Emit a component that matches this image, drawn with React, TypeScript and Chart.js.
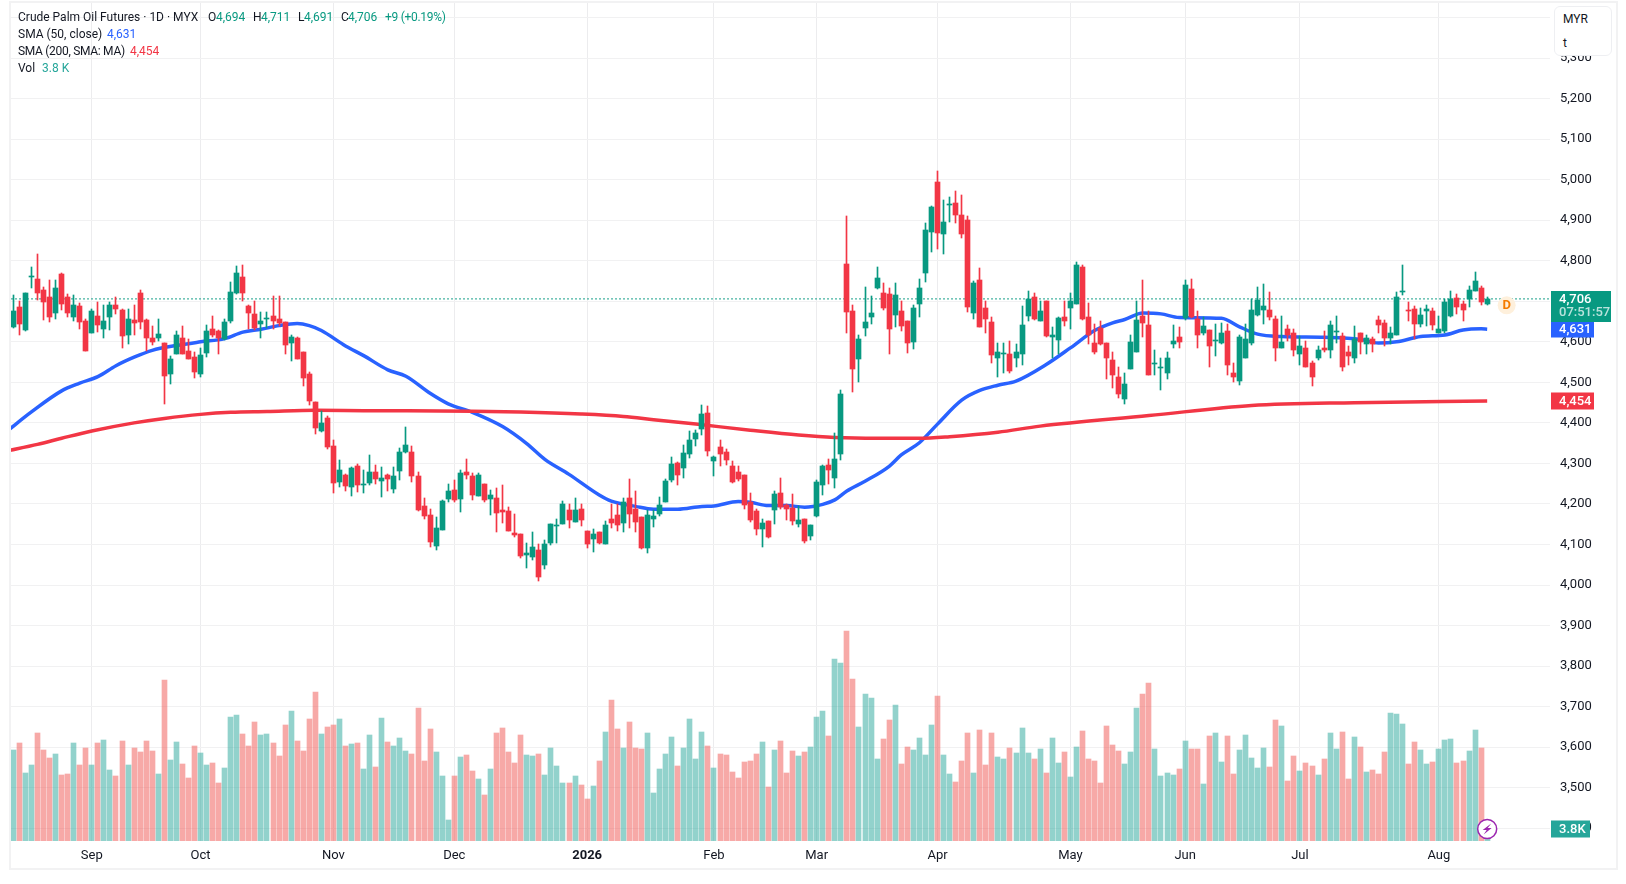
import { useEffect, useRef } from 'react';
import { Chart, registerables } from 'chart.js';

Chart.register(...registerables);

const opens = [
  4636, 4686, 4629, 4761, 4755, 4728, 4710, 4671, 4767, 4710, 4661, 4688, 4651, 4622, 4663, 4631, 4661, 4691, 4678, 4617,
  4654, 4720, 4654, 4609, 4609, 4597, 4520, 4570, 4609, 4577, 4562, 4520, 4572, 4631, 4626, 4607, 4651, 4720, 4760, 4688,
  4668, 4644, 4657, 4663, 4656, 4649, 4597, 4609, 4575, 4520, 4452, 4381, 4413, 4344, 4255, 4272, 4242, 4294, 4247, 4252,
  4279, 4257, 4272, 4238, 4282, 4329, 4329, 4270, 4196, 4173, 4097, 4136, 4213, 4235, 4213, 4279, 4270, 4220, 4250, 4213,
  4215, 4186, 4183, 4129, 4127, 4075, 4070, 4087, 4050, 4104, 4147, 4151, 4186, 4156, 4188, 4134, 4114, 4131, 4102, 4164,
  4173, 4154, 4215, 4188, 4168, 4092, 4164, 4175, 4205, 4260, 4302, 4289, 4324, 4360, 4385, 4424, 4306, 4340, 4328, 4294,
  4279, 4271, 4205, 4183, 4138, 4158, 4185, 4227, 4197, 4190, 4150, 4163, 4121, 4170, 4247, 4296, 4264, 4323, 4792, 4676,
  4558, 4634, 4661, 4733, 4720, 4718, 4666, 4676, 4651, 4600, 4693, 4770, 4871, 4994, 4866, 4938, 4942, 4913, 4900, 4671,
  4752, 4683, 4649, 4561, 4570, 4571, 4561, 4571, 4663, 4710, 4651, 4700, 4611, 4604, 4661, 4683, 4693, 4785, 4661, 4596,
  4633, 4596, 4554, 4514, 4458, 4534, 4574, 4663, 4641, 4547, 4535, 4524, 4594, 4611, 4658, 4730, 4656, 4623, 4628, 4602,
  4596, 4626, 4524, 4504, 4561, 4596, 4666, 4678, 4678, 4656, 4586, 4631, 4623, 4571, 4584, 4547, 4559, 4584, 4579, 4624,
  4614, 4574, 4561, 4623, 4594, 4606, 4653, 4646, 4609, 4618, 4723, 4678, 4680, 4643, 4677, 4675, 4623, 4626, 4663, 4708,
  4693, 4705, 4725, 4733, 4694,
];
const highs = [
  4715, 4700, 4720, 4784, 4816, 4735, 4752, 4752, 4770, 4718, 4715, 4695, 4656, 4681, 4698, 4691, 4698, 4710, 4681, 4681,
  4691, 4728, 4656, 4639, 4656, 4597, 4565, 4626, 4639, 4607, 4575, 4585, 4641, 4663, 4629, 4656, 4747, 4787, 4789, 4691,
  4700, 4673, 4673, 4713, 4713, 4649, 4617, 4612, 4575, 4525, 4452, 4430, 4418, 4358, 4309, 4275, 4292, 4299, 4284, 4321,
  4297, 4292, 4275, 4292, 4339, 4390, 4344, 4279, 4215, 4188, 4168, 4210, 4250, 4260, 4284, 4312, 4277, 4277, 4250, 4235,
  4240, 4247, 4193, 4176, 4127, 4103, 4131, 4100, 4110, 4151, 4163, 4208, 4201, 4215, 4201, 4134, 4139, 4131, 4159, 4201,
  4201, 4215, 4262, 4233, 4168, 4186, 4186, 4217, 4262, 4316, 4304, 4346, 4381, 4382, 4444, 4442, 4318, 4358, 4335, 4306,
  4294, 4271, 4227, 4187, 4163, 4158, 4232, 4264, 4200, 4225, 4195, 4163, 4148, 4259, 4296, 4311, 4375, 4481, 4910, 4691,
  4617, 4735, 4713, 4785, 4745, 4733, 4745, 4701, 4651, 4691, 4755, 4893, 4935, 5021, 4950, 4957, 4972, 4962, 4910, 4750,
  4782, 4701, 4661, 4596, 4596, 4601, 4594, 4688, 4725, 4720, 4700, 4700, 4636, 4661, 4700, 4720, 4797, 4790, 4695, 4643,
  4651, 4596, 4574, 4537, 4524, 4618, 4700, 4752, 4675, 4579, 4561, 4574, 4641, 4636, 4752, 4755, 4675, 4661, 4628, 4643,
  4646, 4643, 4547, 4616, 4643, 4705, 4735, 4742, 4723, 4663, 4663, 4641, 4631, 4614, 4601, 4552, 4589, 4626, 4651, 4663,
  4621, 4589, 4638, 4623, 4616, 4611, 4663, 4653, 4636, 4723, 4790, 4698, 4688, 4683, 4690, 4683, 4663, 4705, 4725, 4718,
  4700, 4737, 4772, 4737, 4711,
];
const lows = [
  4634, 4617, 4627, 4732, 4704, 4654, 4649, 4656, 4678, 4661, 4651, 4631, 4577, 4622, 4624, 4609, 4629, 4668, 4585, 4594,
  4617, 4631, 4577, 4592, 4602, 4446, 4496, 4570, 4570, 4557, 4511, 4513, 4562, 4612, 4570, 4604, 4646, 4718, 4700, 4631,
  4629, 4609, 4634, 4631, 4639, 4570, 4552, 4557, 4491, 4444, 4373, 4378, 4336, 4228, 4242, 4233, 4220, 4230, 4228, 4247,
  4250, 4218, 4233, 4228, 4260, 4326, 4255, 4183, 4164, 4095, 4087, 4136, 4205, 4205, 4181, 4262, 4210, 4220, 4205, 4173,
  4131, 4153, 4134, 4119, 4067, 4043, 4062, 4010, 4040, 4099, 4104, 4151, 4141, 4156, 4146, 4092, 4082, 4102, 4102, 4141,
  4134, 4131, 4141, 4131, 4090, 4080, 4144, 4170, 4205, 4255, 4247, 4265, 4314, 4343, 4370, 4318, 4269, 4294, 4296, 4252,
  4257, 4187, 4155, 4123, 4094, 4116, 4150, 4187, 4160, 4148, 4143, 4104, 4111, 4168, 4222, 4249, 4239, 4308, 4622, 4476,
  4501, 4614, 4644, 4730, 4678, 4570, 4636, 4627, 4572, 4582, 4661, 4748, 4822, 4829, 4817, 4896, 4893, 4856, 4674, 4656,
  4637, 4622, 4548, 4512, 4524, 4522, 4539, 4544, 4651, 4653, 4651, 4611, 4561, 4571, 4638, 4631, 4693, 4653, 4594, 4571,
  4591, 4509, 4487, 4462, 4447, 4534, 4574, 4611, 4519, 4517, 4482, 4509, 4584, 4584, 4653, 4658, 4586, 4618, 4539, 4564,
  4594, 4519, 4502, 4494, 4561, 4591, 4663, 4643, 4653, 4552, 4584, 4601, 4566, 4542, 4537, 4492, 4556, 4574, 4559, 4596,
  4527, 4544, 4549, 4569, 4569, 4576, 4621, 4589, 4594, 4618, 4715, 4651, 4606, 4636, 4638, 4628, 4621, 4621, 4661, 4668,
  4651, 4685, 4725, 4690, 4691,
];
const closes = [
  4676, 4644, 4720, 4762, 4720, 4698, 4661, 4732, 4693, 4671, 4691, 4649, 4577, 4676, 4641, 4651, 4691, 4681, 4614, 4656,
  4646, 4649, 4609, 4599, 4619, 4516, 4557, 4617, 4570, 4557, 4525, 4567, 4626, 4617, 4609, 4649, 4723, 4769, 4720, 4671,
  4634, 4651, 4659, 4651, 4646, 4592, 4612, 4557, 4511, 4454, 4388, 4400, 4341, 4252, 4284, 4245, 4289, 4247, 4250, 4279,
  4262, 4265, 4262, 4270, 4329, 4346, 4270, 4186, 4171, 4107, 4141, 4208, 4233, 4210, 4277, 4272, 4223, 4272, 4210, 4223,
  4178, 4181, 4134, 4124, 4072, 4080, 4095, 4020, 4102, 4151, 4149, 4201, 4161, 4186, 4161, 4102, 4127, 4104, 4149, 4154,
  4149, 4205, 4176, 4156, 4092, 4173, 4171, 4197, 4257, 4299, 4272, 4326, 4358, 4375, 4422, 4331, 4316, 4323, 4308, 4254,
  4262, 4197, 4160, 4138, 4153, 4118, 4224, 4192, 4187, 4158, 4160, 4108, 4148, 4254, 4294, 4284, 4311, 4471, 4674, 4533,
  4607, 4649, 4671, 4757, 4683, 4632, 4715, 4639, 4597, 4683, 4733, 4876, 4933, 4868, 4896, 4940, 4913, 4866, 4686, 4745,
  4637, 4656, 4567, 4576, 4573, 4529, 4576, 4641, 4706, 4656, 4675, 4614, 4616, 4658, 4651, 4700, 4790, 4656, 4616, 4576,
  4594, 4561, 4517, 4472, 4497, 4599, 4653, 4646, 4519, 4549, 4537, 4561, 4601, 4599, 4740, 4661, 4616, 4638, 4589, 4604,
  4621, 4542, 4512, 4611, 4606, 4678, 4703, 4688, 4661, 4586, 4599, 4618, 4579, 4589, 4537, 4512, 4581, 4579, 4641, 4626,
  4539, 4564, 4606, 4599, 4609, 4594, 4641, 4609, 4623, 4710, 4725, 4676, 4643, 4666, 4680, 4641, 4631, 4698, 4705, 4685,
  4678, 4728, 4750, 4698, 4706,
];
// thousands of contracts
const volumes = [
  22.6, 24.3, 17.1, 19.0, 26.7, 22.6, 20.7, 21.7, 16.7, 16.9, 24.3, 19.0, 23.1, 19.0, 24.3, 25.0, 17.9, 16.4, 24.8, 19.0,
  23.1, 22.1, 24.8, 22.4, 16.9, 39.3, 20.2, 24.5, 19.3, 16.0, 23.6, 21.9, 19.0, 19.5, 14.8, 18.3, 30.5, 31.0, 26.4, 23.6,
  29.3, 26.2, 26.4, 24.3, 21.2, 28.6, 31.9, 24.8, 22.4, 30.0, 36.4, 26.4, 28.1, 28.6, 30.0, 23.6, 24.0, 24.3, 18.1, 26.2,
  18.6, 30.2, 24.5, 23.6, 25.5, 22.4, 21.7, 32.6, 20.0, 27.6, 22.1, 16.4, 6.0, 16.4, 21.0, 21.4, 17.6, 15.7, 11.9, 18.1,
  26.7, 27.9, 22.1, 19.5, 26.2, 21.4, 21.2, 21.7, 16.7, 23.1, 18.8, 14.8, 14.8, 16.4, 14.3, 11.0, 14.0, 20.0, 26.9, 34.5,
  27.6, 23.1, 29.3, 23.1, 22.9, 26.7, 12.4, 18.1, 21.7, 25.7, 18.8, 23.1, 30.0, 20.5, 26.9, 23.6, 18.3, 21.7, 21.4, 17.4,
  16.0, 19.8, 20.0, 21.7, 24.5, 13.8, 22.6, 24.8, 17.1, 22.4, 21.2, 22.1, 23.3, 30.5, 31.9, 26.0, 44.3, 43.3, 51.0, 39.5,
  28.1, 36.0, 35.0, 20.5, 25.2, 29.8, 33.3, 19.3, 23.3, 22.6, 25.5, 21.4, 28.6, 35.5, 21.4, 16.9, 15.0, 20.0, 26.7, 17.1,
  27.4, 19.0, 26.7, 21.0, 20.5, 23.1, 21.9, 27.9, 21.9, 20.5, 22.9, 17.1, 25.5, 19.5, 22.1, 16.2, 23.3, 27.1, 20.5, 20.0,
  14.8, 28.3, 23.8, 22.4, 19.3, 22.1, 32.6, 36.0, 38.6, 22.9, 16.4, 17.1, 16.7, 18.1, 24.8, 22.9, 22.9, 14.5, 26.0, 26.7,
  19.8, 26.0, 16.9, 22.6, 26.2, 20.7, 18.3, 23.1, 18.6, 29.8, 28.3, 15.2, 21.2, 17.6, 19.5, 18.8, 16.7, 20.5, 26.7, 22.9,
  26.9, 15.7, 25.7, 23.3, 17.4, 17.9, 16.9, 22.1, 31.4, 31.2, 28.8, 19.3, 24.5, 22.6, 19.3, 19.8, 22.9, 25.0, 25.2, 19.5,
  20.0, 22.4, 27.4, 23.1, 3.8,
];

const sma50Bars = [
  -1, 3, 8, 11, 14, 17, 20, 23, 27, 31, 35, 38, 41, 44, 47, 49, 51, 55, 58, 62, 65, 69, 72, 76, 81, 85, 88, 92, 97, 99,
  103, 106, 110, 114, 116, 120, 122, 125, 128, 131, 134, 136, 138, 141, 145, 147, 150, 153, 157, 160, 163, 166, 171,
  175, 179, 182, 184, 187, 190, 193, 200, 203, 206, 210, 217, 223, 226, 229, 233, 237, 240, 243, 244,
];
const sma50Values = [
  4380, 4427, 4479, 4498, 4514, 4541, 4562, 4579, 4591, 4600, 4608, 4624, 4631, 4640, 4645, 4640, 4628, 4590, 4566, 4531,
  4515, 4473, 4447, 4426, 4391, 4349, 4310, 4273, 4222, 4207, 4194, 4187, 4187, 4194, 4195, 4206, 4204, 4196, 4196, 4192,
  4199, 4210, 4232, 4256, 4293, 4321, 4351, 4397, 4456, 4480, 4493, 4503, 4544, 4585, 4628, 4647, 4655, 4671, 4669, 4660,
  4658, 4637, 4619, 4613, 4611, 4606, 4597, 4600, 4613, 4617, 4629, 4632, 4631,
];
const sma200Bars = [
  -1, 4, 8, 13, 20, 25, 31, 36, 42, 50, 58, 76, 84, 94, 101, 106, 113, 122, 130, 136, 143, 150, 155, 163, 170, 188, 205,
  222, 244,
];
const sma200Values = [
  4331, 4347, 4362, 4380, 4400, 4411, 4421, 4426, 4428, 4431, 4430, 4429, 4427, 4422, 4416, 4408, 4397, 4382, 4370, 4364,
  4362, 4362, 4366, 4377, 4392, 4418, 4443, 4450, 4454,
];

const monthBars = [13, 31, 53, 73, 95, 116, 133, 153, 175, 194, 213, 236];
const monthLabels = ['Sep', 'Oct', 'Nov', 'Dec', '2026', 'Feb', 'Mar', 'Apr', 'May', 'Jun', 'Jul', 'Aug'];

const lastClose = 4706;
const sma50Last = 4631;
const sma200Last = 4454;
const lastVolume = 3.8;

const UP = '#089981';
const DOWN = '#F23645';
const BLUE = '#2962FF';
const TEXT = '#131722';
const FONT = 'Roboto, sans-serif';

const isUp = closes.map((c, i) => c >= opens[i]);
const candleColors = isUp.map((up) => (up ? UP : DOWN));
const volumeColors = isUp.map((up) => (up ? 'rgba(38, 166, 154, 0.5)' : 'rgba(239, 83, 80, 0.5)'));

const fmt = (v: number) => v.toLocaleString('en-US');

// bars land on whole pixels, the way the original chart renders them
const snapBars = {
  id: 'snapBars',
  afterDatasetsUpdate(chart: Chart) {
    chart.data.datasets.forEach((ds, index) => {
      if (ds.type !== 'bar') {
        return;
      }
      chart.getDatasetMeta(index).data.forEach((el: any) => {
        el.x = Math.floor(el.x) + 0.5;
        el.y = Math.round(el.y);
        el.base = Math.round(el.base);
        if (el.y === el.base) {
          el.base = el.y + 1;
        }
      });
    });
  },
};

function badge(ctx: CanvasRenderingContext2D, y: number, w: number, color: string, label: string) {
  ctx.fillStyle = color;
  ctx.fillRect(1551, Math.round(y) - 8.5, w, 17);
  ctx.fillStyle = '#ffffff';
  ctx.font = `500 13px ${FONT}`;
  ctx.textAlign = 'left';
  ctx.textBaseline = 'middle';
  ctx.fillText(label, 1559, y + 0.5);
}

const overlays = {
  id: 'overlays',
  afterDraw(chart: Chart) {
    const { ctx } = chart;
    const price = chart.scales.y;
    const vol = chart.scales.vol;
    const xs = chart.scales.x;
    ctx.save();

    const closeY = price.getPixelForValue(lastClose);
    badge(ctx, vol.getPixelForValue(lastVolume), 39, '#26A69A', `${lastVolume}K`);
    badge(ctx, price.getPixelForValue(sma200Last), 43, DOWN, fmt(sma200Last));
    badge(ctx, price.getPixelForValue(sma50Last), 43, BLUE, fmt(sma50Last));
    ctx.fillStyle = UP;
    ctx.fillRect(1551, Math.round(closeY) - 8, 60, 31);
    ctx.fillStyle = '#ffffff';
    ctx.font = `500 13px ${FONT}`;
    ctx.fillText(fmt(lastClose), 1559, closeY + 0.5);
    ctx.fillStyle = 'rgba(255, 255, 255, 0.72)';
    ctx.fillText('07:51:57', 1559, closeY + 14);

    // dividend marker just past the last bar
    const dx = xs.getPixelForValue(opens.length - 1) + 19.5;
    ctx.fillStyle = '#fef0dc';
    ctx.beginPath();
    ctx.arc(dx, closeY + 6.5, 9, 0, Math.PI * 2);
    ctx.fill();
    ctx.fillStyle = '#F57C00';
    ctx.font = `700 13px ${FONT}`;
    ctx.textAlign = 'center';
    ctx.fillText('D', dx, closeY + 7);

    // lightning button over the volume of the running session
    const bx = xs.getPixelForValue(opens.length - 1);
    const by = vol.getPixelForValue(lastVolume);
    ctx.fillStyle = '#ffffff';
    ctx.strokeStyle = '#9C27B0';
    ctx.lineWidth = 1.5;
    ctx.beginPath();
    ctx.arc(bx, by, 9.5, 0, Math.PI * 2);
    ctx.fill();
    ctx.stroke();
    ctx.fillStyle = '#9C27B0';
    ctx.beginPath();
    ctx.moveTo(bx + 4, by - 5.5);
    ctx.lineTo(bx - 4.5, by + 1);
    ctx.lineTo(bx - 0.5, by + 1);
    ctx.lineTo(bx - 3.5, by + 5.5);
    ctx.lineTo(bx + 4.5, by - 1);
    ctx.lineTo(bx + 0.5, by - 1);
    ctx.closePath();
    ctx.fill();
    ctx.restore();
  },
};

const barIndex = closes.map((_, i) => i);

const legendRows: { x: number; y: number; text: string; color: string; tight?: boolean }[] = [
  { x: 18, y: 9, text: 'Crude Palm Oil Futures · 1D · MYX', color: TEXT },
  { x: 208, y: 9, text: 'O', color: TEXT },
  { x: 216, y: 9, text: fmt(opens[opens.length - 1]), color: UP },
  { x: 253, y: 9, text: 'H', color: TEXT },
  { x: 261, y: 9, text: fmt(highs[highs.length - 1]), color: UP },
  { x: 298, y: 9, text: 'L', color: TEXT },
  { x: 304, y: 9, text: fmt(lows[lows.length - 1]), color: UP },
  { x: 341, y: 9, text: 'C', color: TEXT },
  { x: 348, y: 9, text: fmt(lastClose), color: UP },
  { x: 385, y: 9, text: '+9 (+0.19%)', color: UP, tight: true },
  { x: 18, y: 26, text: 'SMA (50, close)', color: TEXT },
  { x: 107, y: 26, text: fmt(sma50Last), color: BLUE },
  { x: 18, y: 43, text: 'SMA (200, SMA: MA)', color: TEXT, tight: true },
  { x: 130, y: 43, text: fmt(sma200Last), color: DOWN },
  { x: 18, y: 60, text: 'Vol', color: TEXT },
  { x: 42, y: 60, text: `${lastVolume} K`, color: '#26A69A' },
];

export default function App() {
  const canvasRef = useRef<HTMLCanvasElement | null>(null);

  useEffect(() => {
    if (!canvasRef.current) {
      return;
    }
    const chart = new Chart(canvasRef.current, {
      type: 'bar',
      data: {
        datasets: [
          {
            type: 'bar',
            order: 1,
            yAxisID: 'y',
            grouped: false,
            barThickness: 5,
            backgroundColor: candleColors,
            data: barIndex.map((i) => ({ x: i, y: [opens[i], closes[i]] })),
          },
          {
            type: 'bar',
            order: 2,
            yAxisID: 'y',
            grouped: false,
            barThickness: 1,
            backgroundColor: candleColors,
            data: barIndex.map((i) => ({ x: i, y: [lows[i], highs[i]] })),
          },
          {
            type: 'line',
            order: 3,
            yAxisID: 'y',
            borderColor: DOWN,
            borderWidth: 3.5,
            pointRadius: 0,
            cubicInterpolationMode: 'monotone',
            data: sma200Bars.map((x, k) => ({ x, y: sma200Values[k] })),
          },
          {
            type: 'line',
            order: 4,
            yAxisID: 'y',
            borderColor: BLUE,
            borderWidth: 3.5,
            pointRadius: 0,
            cubicInterpolationMode: 'monotone',
            data: sma50Bars.map((x, k) => ({ x, y: sma50Values[k] })),
          },
          {
            type: 'line',
            order: 5,
            yAxisID: 'y',
            borderColor: UP,
            borderWidth: 1.4,
            borderDash: [1.5, 2.5],
            pointRadius: 0,
            data: [
              { x: -1, y: lastClose },
              { x: 256, y: lastClose },
            ],
          },
          {
            type: 'bar',
            order: 6,
            yAxisID: 'vol',
            grouped: false,
            barThickness: 5,
            backgroundColor: volumeColors,
            data: barIndex.map((i) => ({ x: i, y: volumes[i] })),
          },
        ],
      } as any,
      plugins: [snapBars, overlays],
      options: {
        responsive: false,
        animation: false,
        devicePixelRatio: 1,
        layout: { padding: { left: 10, top: 3, right: 11, bottom: 16 } },
        plugins: { legend: { display: false }, tooltip: { enabled: false } },
        scales: {
          x: {
            type: 'linear',
            offset: false,
            min: -0.546,
            max: 254.4,
            border: { display: false },
            grid: { color: '#ececee', drawTicks: false, offset: false },
            afterBuildTicks: (scale: any) => {
              scale.ticks = monthBars.map((value) => ({ value }));
            },
            afterFit: (scale: any) => {
              scale.height = 27;
              scale.paddingLeft = 0;
              scale.paddingRight = 0;
            },
            ticks: {
              autoSkip: false,
              maxRotation: 0,
              padding: 7,
              color: TEXT,
              font: (c: any) => ({
                family: FONT,
                size: 13,
                weight: c.tick && c.tick.label === '2026' ? 'bold' : 'normal',
              }),
              callback: (value: any) => monthLabels[monthBars.indexOf(Number(value))],
            },
          },
          y: {
            position: 'right',
            min: 3368.4,
            max: 5436,
            border: { display: false },
            grid: { color: '#f1f1f2', drawTicks: false },
            afterFit: (scale: any) => {
              scale.width = 65;
              scale.paddingTop = 0;
              scale.paddingBottom = 0;
            },
            ticks: {
              stepSize: 100,
              includeBounds: false,
              autoSkip: false,
              padding: 10,
              color: TEXT,
              font: { family: FONT, size: 13 },
              callback: (value: any) => fmt(Number(value)),
            },
          },
          vol: {
            display: false,
            min: 0.95,
            max: 200.5,
          },
        },
      } as any,
    });

    return () => {
      chart.destroy();
    };
  }, []);

  return (
    <div style={{ position: 'absolute', left: 0, top: 0, width: 1626, height: 884, background: '#ffffff', overflow: 'hidden' }}>
      <canvas ref={canvasRef} width={1626} height={884} style={{ position: 'absolute', left: 0, top: 0 }} />
      <div
        style={{
          position: 'absolute',
          left: 9,
          top: 1,
          width: 1609,
          height: 869,
          boxSizing: 'border-box',
          border: '2px solid #f2f2f3',
          pointerEvents: 'none',
        }}
      />
      {legendRows.map((row) => (
        <span
          key={`${row.x}-${row.y}`}
          style={{
            position: 'absolute',
            left: row.x,
            top: row.y,
            color: row.color,
            font: `12px/17px ${FONT}`,
            letterSpacing: row.tight ? '-0.3px' : undefined,
            whiteSpace: 'nowrap',
          }}
        >
          {row.text}
        </span>
      ))}
      <div
        style={{
          position: 'absolute',
          left: 1554,
          top: 6,
          width: 58,
          height: 50,
          boxSizing: 'border-box',
          background: '#ffffff',
          border: '1px solid #eeeff2',
          borderRadius: 6,
          color: TEXT,
          font: `12px/24px ${FONT}`,
          paddingLeft: 8,
        }}
      >
        <div>MYR</div>
        <div>t</div>
      </div>
    </div>
  );
}
